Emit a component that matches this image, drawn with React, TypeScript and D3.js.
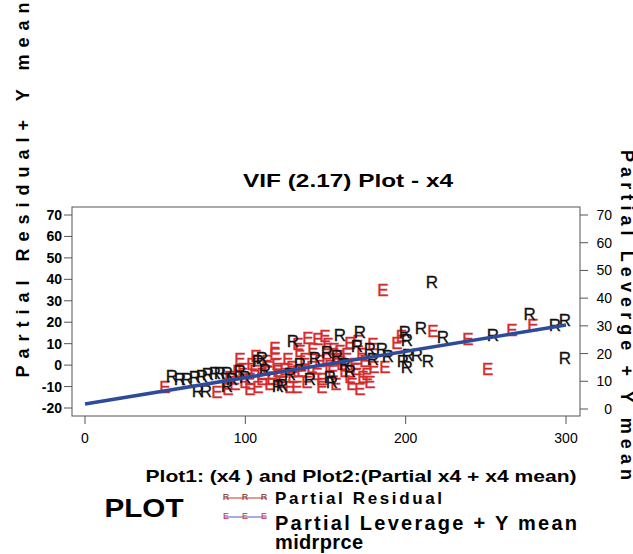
import React from "react";
import * as d3 from "d3";

const title = "VIF (2.17) Plot - x4";
const xTicks = [0, 100, 200, 300];
const yLeftTicks = [-20, -10, 0, 10, 20, 30, 40, 50, 60, 70];
const yRightTicks = [0, 10, 20, 30, 40, 50, 60, 70];

// Partial residual (R) – left axis units
const rX = [54.2, 59.2, 63.6, 68.6, 72.9, 76.7, 81.0, 84.2, 88.5, 70.4, 75.4, 88.5, 107.9, 110.3, 120.3, 122.8, 129.7, 159.0, 171.4, 150.9, 157.1, 169.6, 177.7, 185.2, 152.7, 154.0, 179.6, 188.9, 198.3, 200.7, 199.5, 200.7, 209.5, 223.2, 201.4, 207.0, 213.8, 254.4, 277.4, 293.0, 299.3, 299.3, 216.3, 99.8, 112.2, 134.0, 143.4, 162.1, 165.2, 96.6, 91.6, 140.3, 127.8];
const rY = [-5.5, -6.9, -6.9, -6.0, -5.5, -4.6, -3.7, -3.7, -3.7, -12.5, -12.5, -10.2, 1.5, 3.3, -10.2, -9.3, 10.8, 14.0, 15.4, 5.7, 3.8, 8.5, 7.1, 7.1, -6.0, -7.9, 2.4, 3.8, 1.5, -0.9, 15.4, 11.7, 17.3, 13.1, 4.7, 4.7, 1.5, 14.0, 23.4, 18.7, 21.0, 3.3, 38.3, -6.0, -2.3, 0.1, 3.3, 0.1, -3.2, -3.2, -6.9, -6.9, -4.6];

// Partial leverage + Y mean (E) – right axis units
const eX = [49.9, 82.3, 90.4, 93.5, 98.5, 102.9, 106.0, 113.5, 118.5, 118.5, 119.7, 121.6, 115.3, 127.8, 124.7, 132.8, 139.0, 145.3, 149.6, 151.5, 137.2, 141.5, 146.5, 152.7, 157.7, 162.1, 165.2, 165.2, 168.3, 172.7, 175.8, 173.3, 187.0, 194.5, 197.4, 185.8, 217.0, 238.8, 266.2, 279.3, 251.2, 159.0, 134.0, 110.3, 147.8, 179.6,
  95.4, 99.8, 104.1, 107.9, 110.3, 114.1, 116.6, 123.4, 126.6, 129.7, 132.2, 135.3, 138.4, 142.1, 144.6, 147.8, 150.9, 154.6, 156.5, 160.2, 163.3, 166.5, 169.6, 171.4, 174.6, 177.7, 96.6, 106.6, 132.8, 155.2, 170.2, 180.2, 129.1, 120.3, 102.9, 89.2];
const eY = [7.6, 6.1, 11.5, 8.7, 14.1, 10.5, 13.4, 17.0, 22.0, 19.5, 15.9, 11.2, 8.7, 7.9, 14.1, 13.4, 25.6, 24.9, 26.0, 23.1, 17.7, 14.8, 17.0, 15.5, 17.7, 13.4, 23.8, 11.5, 15.9, 19.5, 12.3, 11.5, 14.8, 23.8, 26.0, 42.9, 27.8, 24.9, 28.5, 30.3, 14.1, 20.6, 20.6, 10.5, 10.5, 23.1,
  13.4, 9.7, 15.9, 7.6, 12.3, 14.8, 10.5, 9.4, 17.7, 11.2, 7.6, 13.4, 9.7, 21.3, 12.3, 7.6, 17.7, 13.4, 9.0, 15.9, 19.5, 9.0, 14.1, 6.9, 17.0, 9.7, 17.7, 19.1, 23.1, 21.3, 24.2, 14.8, 14.8, 13.4, 6.9, 6.9];

// Fitted line (left axis units)
const lineX = [0, 300];
const lineY = [-18.1, 18.7];

const FONT = "'Liberation Sans', Arial, Helvetica, sans-serif";

export default function App() {
  const W = 633, H = 554;
  const left = 72, right = 580, top = 207, bottom = 416;
  const x = d3.scaleLinear().domain([0, 300]).range([85, 566]);
  const yL = d3.scaleLinear().domain([-20, 70]).range([408, 215]);
  const yR = d3.scaleLinear().domain([0, 70]).range([409, 215]);
  const line = d3.line<number>().x((_, i) => x(lineX[i])).y((d) => yL(d));
  const axisColor = "#555";
  const red = "#d62b2b";

  return (
    <svg width={W} height={H} style={{ position: "absolute", left: 0, top: 0, background: "#fff" }} fontFamily={FONT}>
      <rect x={0} y={0} width={W} height={H} fill="#fff" />
      {/* Left axis label */}
      <text transform={`translate(23,190) rotate(-90)`} textAnchor="middle" dominantBaseline="central" fontSize={18} fontWeight="bold" textLength={375} lengthAdjust="spacing">Partial Residual+ Y mean</text>
      {/* Right axis label */}
      <text transform={`translate(627,315) rotate(90)`} textAnchor="middle" dominantBaseline="central" fontSize={18} fontWeight="bold" textLength={330} lengthAdjust="spacing">Partial Leverge + Y mean</text>
      {/* Title */}
      <text x={348} y={180} textAnchor="middle" dominantBaseline="central" fontSize={19} fontWeight="bold" textLength={210} lengthAdjust="spacingAndGlyphs">{title}</text>

      {/* Frame */}
      <rect x={left} y={top} width={right - left} height={bottom - top} fill="none" stroke={axisColor} strokeWidth={1} />
      {yLeftTicks.map((t) => (
        <g key={"l" + t}>
          <line x1={left - 8} x2={left} y1={yL(t)} y2={yL(t)} stroke={axisColor} />
          <text x={62} y={yL(t)} textAnchor="end" dominantBaseline="central" fontSize={14} fontWeight="bold">{t}</text>
        </g>
      ))}
      {yRightTicks.map((t) => (
        <g key={"r" + t}>
          <line x1={right} x2={right + 8} y1={yR(t)} y2={yR(t)} stroke={axisColor} />
          <text x={612} y={yR(t)} textAnchor="end" dominantBaseline="central" fontSize={14}>{t}</text>
        </g>
      ))}
      {xTicks.map((t) => (
        <g key={"x" + t}>
          <line x1={x(t)} x2={x(t)} y1={bottom} y2={bottom + 8} stroke={axisColor} />
          <text x={x(t)} y={438} textAnchor="middle" dominantBaseline="central" fontSize={14}>{t}</text>
        </g>
      ))}

      {/* Points */}
      {eX.map((v, i) => (
        <text key={"e" + i} x={x(v)} y={yR(eY[i])} textAnchor="middle" dominantBaseline="central" fontSize={17} fill={red} stroke={red} strokeWidth={0.4}>E</text>
      ))}
      {rX.map((v, i) => (
        <text key={"r" + i} x={x(v)} y={yL(rY[i])} textAnchor="middle" dominantBaseline="central" fontSize={17} fill="#111" stroke="#111" strokeWidth={0.3}>R</text>
      ))}
      <path d={line(lineY) || ""} fill="none" stroke="#2d4b9b" strokeWidth={3.5} />

      {/* X label */}
      <text x={361} y={476} textAnchor="middle" dominantBaseline="central" fontSize={17} fontWeight="bold" textLength={431} lengthAdjust="spacingAndGlyphs">Plot1: (x4 ) and  Plot2:(Partial x4 + x4 mean)</text>

      {/* Legend */}
      <text x={144} y={508} textAnchor="middle" dominantBaseline="central" fontSize={26} fontWeight="bold" textLength={79} lengthAdjust="spacingAndGlyphs">PLOT</text>
      <line x1={224} x2={267} y1={498} y2={498} stroke="#c0392b" strokeWidth={1} />
      {[226, 245, 264].map((px) => (
        <text key={"lr" + px} x={px} y={497} textAnchor="middle" dominantBaseline="central" fontSize={9} fill="#7a1a1a">R</text>
      ))}
      <text x={275} y={498} dominantBaseline="central" fontSize={17} fontWeight="bold" textLength={167} lengthAdjust="spacing">Partial Residual</text>
      <line x1={224} x2={267} y1={517} y2={517} stroke="#4a5fb0" strokeWidth={1} />
      {[226, 245, 264].map((px) => (
        <text key={"le" + px} x={px} y={516} textAnchor="middle" dominantBaseline="central" fontSize={9} fill={red}>E</text>
      ))}
      <text x={275} y={523} dominantBaseline="central" fontSize={20} fontWeight="bold" textLength={302} lengthAdjust="spacing">Partial Leverage + Y mean</text>
      <text x={275} y={542} dominantBaseline="central" fontSize={20} fontWeight="bold" textLength={88} lengthAdjust="spacing">midrprce</text>
    </svg>
  );
}
